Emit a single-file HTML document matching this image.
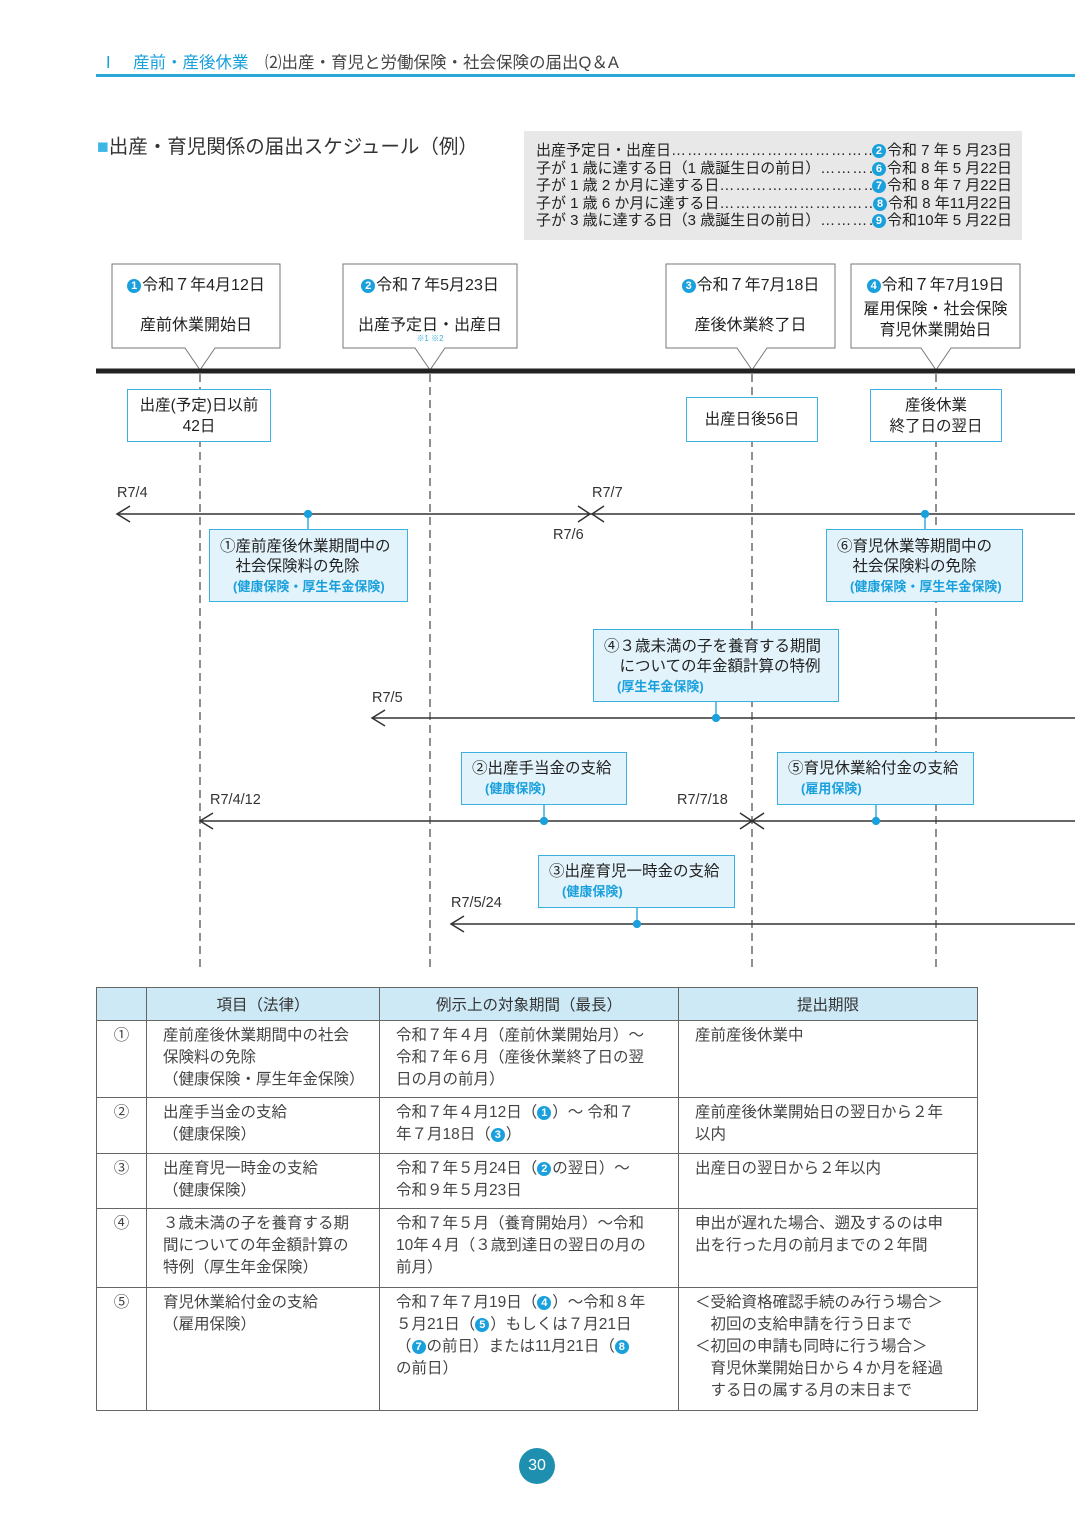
<!DOCTYPE html>
<html><head><meta charset="utf-8">
<style>
*{margin:0;padding:0;box-sizing:border-box}
body{width:1075px;height:1520px;background:#fff;position:relative;overflow:hidden;font-family:"Liberation Sans","Noto Sans CJK JP",sans-serif;color:#333}
.a{position:absolute}
.n{display:inline-block;width:14px;height:14px;border-radius:50%;background:#1aa0dc;color:#fff;font-size:11px;line-height:14px;text-align:center;font-weight:bold;vertical-align:1px;margin-right:1px}
.bx{position:absolute;background:#e3f3fb;border:1px solid #3bb1e0;font-size:15.5px;line-height:20px;color:#222}
.bl{color:#1aa0dc;font-size:13px;font-weight:bold}
.wb{position:absolute;background:#fff;border:1.5px solid #3bb1e0;text-align:center;font-size:15.5px;line-height:21px;color:#222}
.lb{position:absolute;font-size:14.5px;color:#333}
.gr{display:flex;white-space:nowrap}
.gr .d{flex:1;overflow:hidden;letter-spacing:1px}
table{border-collapse:collapse;position:absolute;left:96px;top:987px;width:882px;font-size:15.5px;color:#444}
td{border:1.5px solid #666;vertical-align:top;padding:4px 0 4px 16px;line-height:22px}
th{border:1.5px solid #666;background:#cde9f6;font-weight:normal;height:33px;font-size:15.5px;color:#333}
td.c{text-align:center;padding-left:0}
</style></head><body>
<div class="a" style="left:100px;top:49px;font-size:16.5px;color:#444;white-space:nowrap"><span style="color:#1aa0dc">Ⅰ　産前・産後休業</span>　⑵出産・育児と労働保険・社会保険の届出Q＆A</div>
<div class="a" style="left:96px;top:74px;width:979px;height:3px;background:#2aa8d8"></div>
<div class="a" style="left:97px;top:130px;font-size:19.5px;color:#333"><span style="color:#3bb6e6">■</span>出産・育児関係の届出スケジュール（例）</div>
<div class="a" style="left:524px;top:131px;width:498px;height:109px;background:#e8e8e8;padding:11px 10px 0 12px;font-size:15px;line-height:17.5px;color:#222">
<div class="gr"><span>出産予定日・出産日</span><span class="d">…………………………………………………………</span><span><span class="n">2</span>令和 7 年 5 月23日</span></div>
<div class="gr"><span>子が 1 歳に達する日（1 歳誕生日の前日）</span><span class="d">……………………</span><span><span class="n">6</span>令和 8 年 5 月22日</span></div>
<div class="gr"><span>子が 1 歳 2 か月に達する日</span><span class="d">…………………………………………………</span><span><span class="n">7</span>令和 8 年 7 月22日</span></div>
<div class="gr"><span>子が 1 歳 6 か月に達する日</span><span class="d">…………………………………………………</span><span><span class="n">8</span>令和 8 年11月22日</span></div>
<div class="gr"><span>子が 3 歳に達する日（3 歳誕生日の前日）</span><span class="d">……………………</span><span><span class="n">9</span>令和10年 5 月22日</span></div>
</div>

<svg class="a" style="left:0;top:0" width="1075" height="1000">
<g stroke="#777" fill="#fff" stroke-width="1">
<polygon points="112,264 280,264 280,348 215,348 200,370 185,348 112,348"/>
<polygon points="343,264 517,264 517,348 445,348 430,370 415,348 343,348"/>
<polygon points="666,264 835,264 835,348 767,348 752,370 737,348 666,348"/>
<polygon points="851,264 1020,264 1020,348 951,348 936,370 921,348 851,348"/>
</g>
<line x1="96" y1="371" x2="1075" y2="371" stroke="#222" stroke-width="5"/>
<g stroke="#555" stroke-width="1.3" stroke-dasharray="8,5">
<line x1="200" y1="374" x2="200" y2="968"/><line x1="430" y1="374" x2="430" y2="968"/>
<line x1="752" y1="374" x2="752" y2="968"/><line x1="936" y1="374" x2="936" y2="968"/>
</g>
<g stroke="#333" stroke-width="1.5" fill="none">
<line x1="117" y1="514" x2="1075" y2="514"/><polyline points="130,506 117,514 130,522"/>
<polyline points="578,506 590,514 578,522"/><polyline points="604,506 592,514 604,522"/>
<line x1="372" y1="718" x2="1075" y2="718"/><polyline points="385,710 372,718 385,726"/>
<line x1="200" y1="821" x2="1075" y2="821"/><polyline points="213,813 200,821 213,829"/>
<polyline points="740,813 752,821 740,829"/><polyline points="764,813 752,821 764,829"/>
<line x1="451" y1="924" x2="1075" y2="924"/><polyline points="464,916 451,924 464,932"/>
</g>
<g stroke="#1aa0dc" stroke-width="1.3" fill="#1aa0dc">
<line x1="308" y1="514" x2="308" y2="529"/><circle cx="308" cy="514" r="3.5"/>
<line x1="925" y1="514" x2="925" y2="529"/><circle cx="925" cy="514" r="3.5"/>
<line x1="716" y1="702" x2="716" y2="718"/><circle cx="716" cy="718" r="3.5"/>
<line x1="544" y1="805" x2="544" y2="821"/><circle cx="544" cy="821" r="3.5"/>
<line x1="876" y1="805" x2="876" y2="821"/><circle cx="876" cy="821" r="3.5"/>
<line x1="637" y1="908" x2="637" y2="924"/><circle cx="637" cy="924" r="3.5"/>
</g>
</svg>

<div class="a" style="left:112px;top:271px;width:168px;text-align:center;font-size:16px;color:#222"><span class="n">1</span>令和７年4月12日</div>
<div class="a" style="left:112px;top:311px;width:168px;text-align:center;font-size:16px;color:#222">産前休業開始日</div>
<div class="a" style="left:343px;top:271px;width:174px;text-align:center;font-size:16px;color:#222"><span class="n">2</span>令和７年5月23日</div>
<div class="a" style="left:343px;top:311px;width:174px;text-align:center;font-size:16px;color:#222">出産予定日・出産日</div>
<div class="a" style="left:343px;top:333px;width:174px;text-align:center;font-size:8px;color:#3bb1e0">※1 ※2</div>
<div class="a" style="left:666px;top:271px;width:169px;text-align:center;font-size:16px;color:#222"><span class="n">3</span>令和７年7月18日</div>
<div class="a" style="left:666px;top:311px;width:169px;text-align:center;font-size:16px;color:#222">産後休業終了日</div>
<div class="a" style="left:851px;top:271px;width:169px;text-align:center;font-size:16px;color:#222"><span class="n">4</span>令和７年7月19日</div>
<div class="a" style="left:851px;top:299px;width:169px;text-align:center;font-size:16px;line-height:21px;color:#222">雇用保険・社会保険<br>育児休業開始日</div>

<div class="wb" style="left:127px;top:389px;width:144px;height:53px;padding-top:5px">出産(予定)日以前<br>42日</div>
<div class="wb" style="left:686px;top:397px;width:132px;height:45px;padding-top:11px">出産日後56日</div>
<div class="wb" style="left:870px;top:389px;width:132px;height:53px;padding-top:5px">産後休業<br>終了日の翌日</div>

<div class="lb" style="left:117px;top:485px">R7/4</div>
<div class="lb" style="left:592px;top:485px">R7/7</div>
<div class="lb" style="left:553px;top:527px">R7/6</div>
<div class="lb" style="left:372px;top:690px">R7/5</div>
<div class="lb" style="left:210px;top:792px">R7/4/12</div>
<div class="lb" style="left:677px;top:792px">R7/7/18</div>
<div class="lb" style="left:451px;top:895px">R7/5/24</div>

<div class="bx" style="left:209px;top:529px;width:199px;height:73px;padding:7px 0 0 10px">①産前産後休業期間中の<br>　社会保険料の免除<br><span class="bl">　(健康保険・厚生年金保険)</span></div>
<div class="bx" style="left:826px;top:529px;width:197px;height:73px;padding:7px 0 0 10px">⑥育児休業等期間中の<br>　社会保険料の免除<br><span class="bl">　(健康保険・厚生年金保険)</span></div>
<div class="bx" style="left:593px;top:629px;width:246px;height:73px;padding:7px 0 0 10px">④３歳未満の子を養育する期間<br>　についての年金額計算の特例<br><span class="bl">　(厚生年金保険)</span></div>
<div class="bx" style="left:461px;top:752px;width:166px;height:53px;padding:6px 0 0 10px">②出産手当金の支給<br><span class="bl">　(健康保険)</span></div>
<div class="bx" style="left:777px;top:752px;width:197px;height:53px;padding:6px 0 0 10px">⑤育児休業給付金の支給<br><span class="bl">　(雇用保険)</span></div>
<div class="bx" style="left:538px;top:855px;width:197px;height:53px;padding:6px 0 0 10px">③出産育児一時金の支給<br><span class="bl">　(健康保険)</span></div>

<table>
<tr><th style="width:50px"></th><th style="width:233px">項目（法律）</th><th style="width:299px">例示上の対象期間（最長）</th><th>提出期限</th></tr>
<tr style="height:77px"><td class="c">①</td><td>産前産後休業期間中の社会<br>保険料の免除<br>（健康保険・厚生年金保険）</td><td>令和７年４月（産前休業開始月）～<br>令和７年６月（産後休業終了日の翌<br>日の月の前月）</td><td>産前産後休業中</td></tr>
<tr style="height:56px"><td class="c">②</td><td>出産手当金の支給<br>（健康保険）</td><td>令和７年４月12日（<span class="n">1</span>）～ 令和７<br>年７月18日（<span class="n">3</span>）</td><td>産前産後休業開始日の翌日から２年<br>以内</td></tr>
<tr style="height:55px"><td class="c">③</td><td>出産育児一時金の支給<br>（健康保険）</td><td>令和７年５月24日（<span class="n">2</span>の翌日）～<br>令和９年５月23日</td><td>出産日の翌日から２年以内</td></tr>
<tr style="height:79px"><td class="c">④</td><td>３歳未満の子を養育する期<br>間についての年金額計算の<br>特例（厚生年金保険）</td><td>令和７年５月（養育開始月）～令和<br>10年４月（３歳到達日の翌日の月の<br>前月）</td><td>申出が遅れた場合、遡及するのは申<br>出を行った月の前月までの２年間</td></tr>
<tr style="height:123px"><td class="c">⑤</td><td>育児休業給付金の支給<br>（雇用保険）</td><td>令和７年７月19日（<span class="n">4</span>）～令和８年<br>５月21日（<span class="n">5</span>）もしくは７月21日<br>（<span class="n">7</span>の前日）または11月21日（<span class="n">8</span><br>の前日）</td><td>＜受給資格確認手続のみ行う場合＞<br>　初回の支給申請を行う日まで<br>＜初回の申請も同時に行う場合＞<br>　育児休業開始日から４か月を経過<br>　する日の属する月の末日まで</td></tr>
</table>

<div class="a" style="left:519px;top:1448px;width:36px;height:36px;border-radius:50%;background:#1f8fb0;color:#fff;font-size:16px;line-height:36px;text-align:center">30</div>
</body></html>
